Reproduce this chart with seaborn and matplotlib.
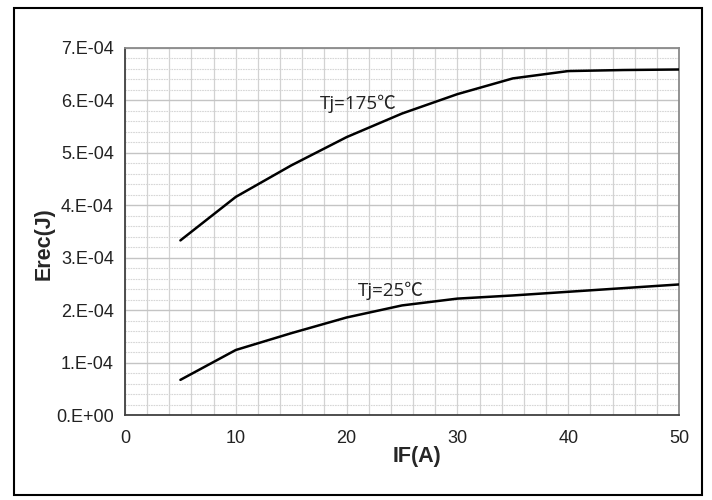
import numpy as np
import pandas as pd
import matplotlib
matplotlib.use("Agg")
import matplotlib.pyplot as plt
import matplotlib.ticker as mticker
from matplotlib.patches import Rectangle
import seaborn as sns

# ---- data ----
if_a = [5, 10, 15, 20, 25, 30, 35, 40, 45, 50]
erec_175 = [3.33e-4, 4.16e-4, 4.76e-4, 5.30e-4, 5.75e-4, 6.12e-4, 6.42e-4, 6.56e-4, 6.58e-4, 6.59e-4]
erec_25 = [0.67e-4, 1.24e-4, 1.56e-4, 1.86e-4, 2.09e-4, 2.22e-4, 2.28e-4, 2.35e-4, 2.42e-4, 2.49e-4]
series_names = ["Tj=175℃", "Tj=25℃"]
x_ticks = [0, 10, 20, 30, 40, 50]
y_ticks = [0, 1e-4, 2e-4, 3e-4, 4e-4, 5e-4, 6e-4, 7e-4]
y_tick_labels = ["0.E+00", "1.E-04", "2.E-04", "3.E-04", "4.E-04", "5.E-04", "6.E-04", "7.E-04"]
x_label = "IF(A)"
y_label = "Erec(J)"

df = pd.DataFrame({
    "IF": if_a + if_a,
    "Erec": erec_175 + erec_25,
    "series": [series_names[0]] * len(if_a) + [series_names[1]] * len(if_a),
})

sns.set_style("white")
plt.rcParams["font.family"] = ["Liberation Sans", "Noto Sans CJK SC", "DejaVu Sans"]

fig = plt.figure(figsize=(7.12, 5.0), dpi=100)
ax = fig.add_axes([125 / 712, 85 / 500, (679 - 125) / 712, (415 - 48) / 500])

sns.lineplot(data=df, x="IF", y="Erec", hue="series",
             palette={series_names[0]: "black", series_names[1]: "black"},
             linewidth=1.8, legend=False, ax=ax, zorder=3)

ax.set_xlim(0, 50)
ax.set_ylim(0, 7e-4)
ax.set_xticks(x_ticks)
ax.set_xticklabels([str(v) for v in x_ticks])
ax.set_yticks(y_ticks)
ax.set_yticklabels(y_tick_labels)
ax.xaxis.set_minor_locator(mticker.MultipleLocator(2))
ax.yaxis.set_minor_locator(mticker.MultipleLocator(2e-5))

ax.grid(which="major", axis="y", color="#c4c4c4", linewidth=1.0, linestyle="-", zorder=0)
ax.grid(which="minor", axis="y", color="#d6d6d6", linewidth=0.8, linestyle=(0, (1.5, 0.8)), zorder=0)
ax.grid(which="both", axis="x", color="#d2d2d2", linewidth=0.9, linestyle="-", zorder=0)

ax.tick_params(axis="both", which="major", direction="out", length=5, width=1.0,
               color="#404040", labelsize=13, labelcolor="#222222", pad=3)
ax.tick_params(axis="both", which="minor", length=0)
ax.tick_params(axis="x", which="major", pad=6)

for side in ["left", "bottom"]:
    ax.spines[side].set_color("#404040")
    ax.spines[side].set_linewidth(1.3)
for side in ["top", "right"]:
    ax.spines[side].set_visible(True)
    ax.spines[side].set_color("#8a8a8a")
    ax.spines[side].set_linewidth(1.3)

ax.set_xlabel(x_label, fontsize=15.5, fontweight="bold", va="center")
ax.set_ylabel(y_label, fontsize=15.5, fontweight="bold", va="center")
ax.xaxis.set_label_coords(0.527, -0.114)
ax.yaxis.set_label_coords(-0.146, 0.466)

ax.text(21.1, 5.93e-4, series_names[0], fontsize=13.5, ha="center", va="center",
        family=["Open Sans", "Noto Sans CJK SC"], color="#222222", zorder=4)
ax.text(24.0, 2.37e-4, series_names[1], fontsize=13.5, ha="center", va="center",
        family=["Open Sans", "Noto Sans CJK SC"], color="#222222", zorder=4)

# outer frame
fig.patches.append(Rectangle((14 / 712, 5 / 500), (702 - 14) / 712, (492 - 5) / 500,
                             transform=fig.transFigure, fill=False,
                             edgecolor="black", linewidth=1.5))

fig.savefig("out.png", dpi=100, facecolor="white")
